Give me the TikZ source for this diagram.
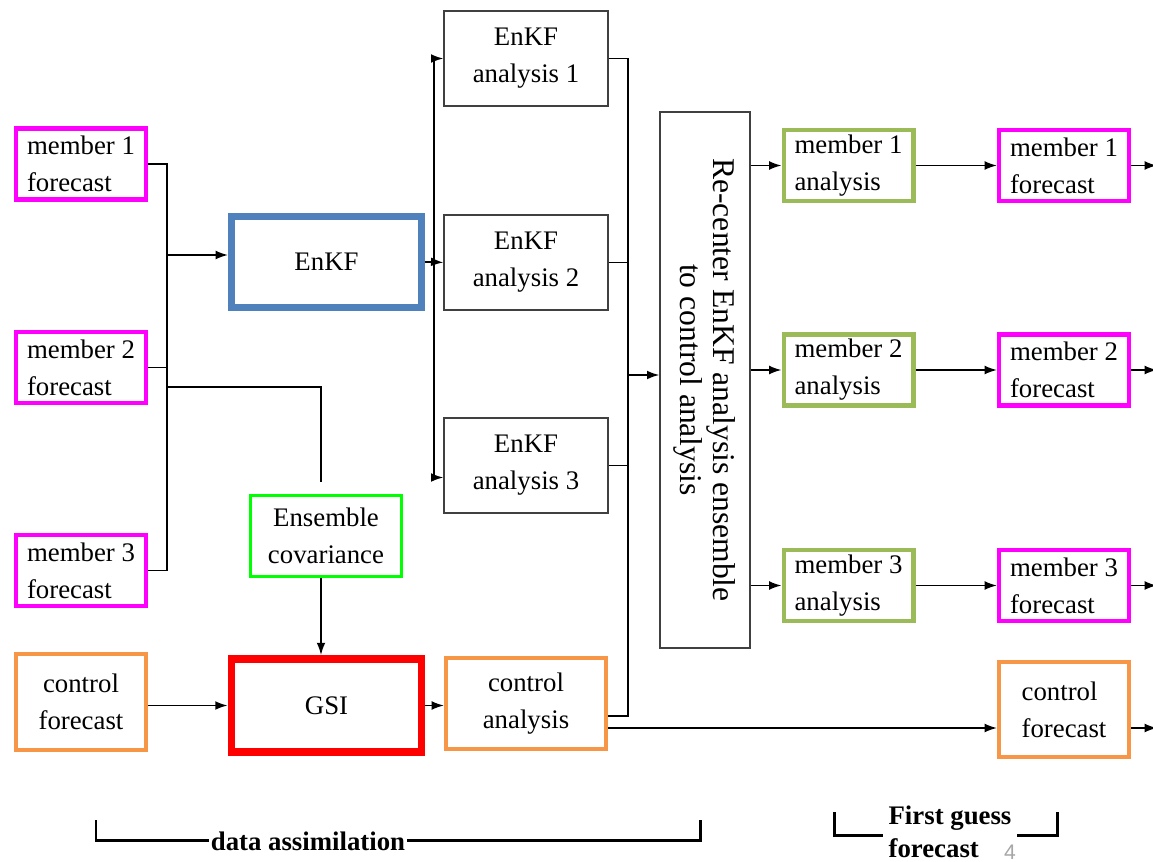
\documentclass[tikz,border=0pt]{standalone}
\usepackage{fontspec}
\setmainfont{Liberation Serif}
\newfontfamily\boxfont{Liberation Serif}
\newfontfamily\pagenofont{Liberation Sans}
\usetikzlibrary{arrows.meta, positioning, calc}
\definecolor{fcmagenta}{HTML}{FF00FF}
\definecolor{enkfblue}{HTML}{4F81BD}
\definecolor{covgreen}{HTML}{00FF00}
\definecolor{gsired}{HTML}{FF0000}
\definecolor{ctlorange}{HTML}{F79646}
\definecolor{anagreen}{HTML}{9BBB59}
\definecolor{boxgray}{HTML}{404040}

\begin{document}
\begin{tikzpicture}[x=0.02cm, y=-0.02cm,
    txt/.style={font=\boxfont\fontsize{15.25}{21}\selectfont, inner sep=0pt},
    fcbox/.style={txt, draw=fcmagenta, line width=2.3pt, minimum width=2.6cm, minimum height=1.42cm, align=left},
    mabox/.style={txt, draw=anagreen, line width=2.3pt, minimum width=2.6cm, minimum height=1.42cm, align=left},
    ctlbox/.style={txt, draw=ctlorange, line width=2.3pt, minimum width=2.6cm},
    anbox/.style={txt, draw=boxgray, line width=0.8pt, minimum width=3.28cm, minimum height=1.9cm, align=center},
    enkfbox/.style={txt, draw=enkfblue, line width=4pt, minimum width=3.8cm, minimum height=1.82cm},
    gsibox/.style={txt, draw=gsired, line width=4.5pt, minimum width=3.8cm, minimum height=1.86cm},
    covbox/.style={txt, draw=covgreen, line width=1.7pt, minimum width=3.02cm, minimum height=1.62cm, align=center},
    rcbox/.style={font=\boxfont\fontsize{18}{18.8}\selectfont, draw=boxgray, line width=0.8pt, rotate=-90,
        minimum width=10.72cm, minimum height=1.8cm, align=center, inner sep=0pt},
    wire/.style={line width=0.9pt},
    arr/.style={wire, -{Latex[length=7pt,width=5pt]}},
    bracket/.style={line width=1.7pt},
    lbl/.style={font=\boxfont\fontsize{15.25}{18.7}\selectfont\bfseries, fill=white}
]
    \useasboundingbox (0,0) rectangle (1153,862);

    % forecasts going in
    \node[fcbox] (m1f) at (81,164) {member 1\\forecast};
    \node[fcbox] (m2f) at (81,367.5) {member 2\\forecast};
    \node[fcbox] (m3f) at (81,570.5) {member 3\\forecast};
    \node[ctlbox, minimum height=1.92cm, align=center] (cfl) at (81,702) {control\\forecast};

    \node[enkfbox] (enkf) at (326.5,262) {EnKF};
    \node[covbox] (cov) at (326,536) {Ensemble\\covariance};
    \node[gsibox] (gsi) at (326.5,705.5) {GSI};

    \foreach \i/\y in {1/58.5, 2/262.5, 3/465.5}
        \node[anbox] (an\i) at (526,\y) {EnKF\\analysis \i};
    \node[ctlbox, minimum width=3.2cm, minimum height=1.82cm, align=center] (ca) at (526,703.5) {control\\analysis};

    \node[rcbox] (rc) at (705,380) {Re-center EnKF analysis ensemble\\to control analysis};

    % first guess
    \foreach \i/\y in {1/165.5, 2/370, 3/585.5} {
        \node[mabox] (ma\i) at (848.5,\y) {member \i\\analysis};
        \node[fcbox] (mfr\i) at (1064,\y) {member \i\\forecast};
    }
    \node[ctlbox, minimum height=1.9cm, align=left] (cfr) at (1064,709.5) {control\\forecast};

    % data assimilation wiring
    \coordinate (ljoin) at (167,255);
    \coordinate (covtap) at (167,387);
    \draw[wire] (m1f.east) -- (m1f.east -| ljoin) -- (m3f.east -| ljoin) -- (m3f.east);
    \draw[wire] (m2f.east) -- (m2f.east -| ljoin);
    \draw[arr] (ljoin) -- (ljoin -| enkf.west);
    \coordinate (covin) at ([xshift=-0.1cm]cov.north);
    \coordinate (covout) at ([xshift=-0.1cm]cov.south);
    \draw[wire, shorten >=7pt] (covtap) -| (covin);
    \draw[arr] (covout) -- (covout |- gsi.north);
    \draw[arr] (cfl.east |- gsi.west) -- (gsi.west);

    \coordinate (abus) at (434,262);
    \draw[wire] (enkf.east) -- (abus);
    \coordinate (an3in) at ([yshift=-0.24cm]an3.west);
    \draw[arr] (abus) |- (an1.west);
    \draw[arr] (abus) |- (an3in);
    \draw[arr] (abus) -- (an2.west);
    \draw[arr] (gsi.east) -- (gsi.east -| ca.west);

    \coordinate (rbus) at (628,375);
    \coordinate (catap) at ([yshift=-0.25cm]ca.east);
    \draw[wire] (an1.east) -| (catap -| rbus) -- (catap);
    \draw[wire] (an2.east) -- (an2.east -| rbus);
    \draw[wire] (an3.east) -- (an3.east -| rbus);
    \draw[arr] (rbus) -- (rbus -| rc.south);

    \foreach \i in {1,2,3} {
        \draw[arr] (rc.north |- ma\i.west) -- (ma\i.west);
        \draw[arr] (ma\i.east) -- (mfr\i.west);
        \draw[arr] (mfr\i.east) -- ++(26,0);
    }
    \coordinate (calong) at ([yshift=-0.49cm]ca.east);
    \draw[arr] (calong) -- (calong -| cfr.west);
    \draw[arr] (calong -| cfr.east) -- ++(26,0);

    % brackets underneath
    \draw[bracket] (96,820) |- (700,840) -- (700,820);
    \node[lbl, inner sep=1pt] (da) at (308,841) {data assimilation};
    \draw[bracket] (834,812) |- (1057,835) -- (1057,812);
    \node[lbl, align=left, inner sep=3pt] (fg) at (950,832) {First guess\\forecast};
    \node[font=\pagenofont\fontsize{12}{12}\selectfont, text=gray!70] (pg) at (1010,852) {4};
\end{tikzpicture}
\end{document}
